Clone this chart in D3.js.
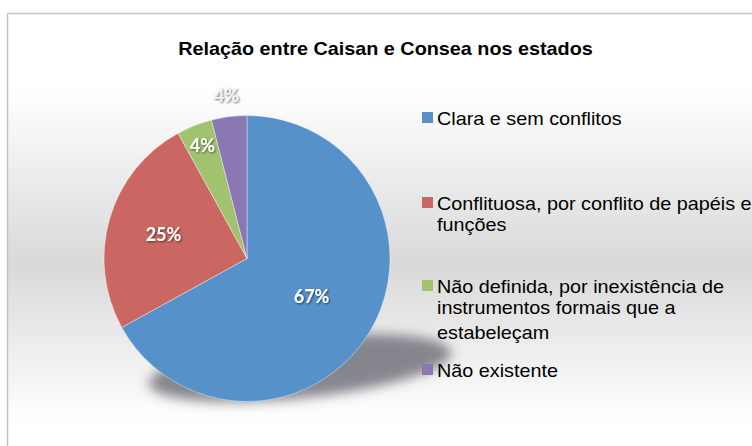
<!DOCTYPE html>
<html>
<head>
<meta charset="utf-8">
<script src="https://cdn.jsdelivr.net/npm/d3@7"></script>
<style>
  body { margin: 0; background: #fff; }
  svg { display: block; }
</style>
</head>
<body>
<script>
const width = 752;
const height = 446;

// data
const categories = [
    "Clara e sem conflitos",
    "Conflituosa, por conflito de papéis e funções",
    "Não definida, por inexistência de instrumentos formais que a estabeleçam",
    "Não existente"
];
const values = [67, 25, 4, 4];
const labels = ["67%", "25%", "4%", "4%"];
// legend text broken into lines like the original
const legendLines = [
    ["Clara e sem conflitos"],
    ["Conflituosa, por conflito de papéis e", "funções"],
    ["Não definida, por inexistência de", "instrumentos formais que a", "estabeleçam"],
    ["Não existente"]
];
const colors = ["#5791c9", "#cb6762", "#a1c370", "#8b78b3"];

// layout
const cx = 247, cy = 258.5, radius = 143;
const labelRadius = [75, 87, 121, 164];
const legendY = [125, 210, 293, 377];
const stretch = 1.1; // text in the original is a bit wide

const svg = d3.select("body")
    .append("svg")
    .attr("width", width)
    .attr("height", height);

const defs = svg.append("defs");

// background band
const grad = defs.append("linearGradient")
    .attr("id", "bg")
    .attr("x1", 0).attr("y1", 0)
    .attr("x2", 0).attr("y2", 1);
grad.append("stop").attr("offset", "0%").attr("stop-color", "#ffffff");
grad.append("stop").attr("offset", "15%").attr("stop-color", "#ffffff");
grad.append("stop").attr("offset", "50%").attr("stop-color", "#d9d9d9");
grad.append("stop").attr("offset", "82%").attr("stop-color", "#ffffff");
grad.append("stop").attr("offset", "100%").attr("stop-color", "#ffffff");

defs.append("filter")
    .attr("id", "blur")
    .attr("x", "-30%").attr("y", "-60%")
    .attr("width", "160%").attr("height", "220%")
    .append("feGaussianBlur")
    .attr("stdDeviation", 6);

const glow = defs.append("filter")
    .attr("id", "glow")
    .attr("x", "-30%").attr("y", "-30%")
    .attr("width", "160%").attr("height", "160%");
glow.append("feDropShadow")
    .attr("dx", 1).attr("dy", 1)
    .attr("stdDeviation", 1.2)
    .attr("flood-color", "#000")
    .attr("flood-opacity", 0.6);

svg.append("rect")
    .attr("x", 7.5)
    .attr("y", 13.5)
    .attr("width", 800)
    .attr("height", 500)
    .attr("fill", "url(#bg)")
    .attr("stroke", "#c4c4c4")
    .attr("stroke-width", 1.5);

// title
svg.append("text")
    .attr("transform", "translate(385.5,55) scale(" + stretch + ",1)")
    .attr("text-anchor", "middle")
    .style("font-family", "'Liberation Sans', Arial, sans-serif")
    .style("font-weight", "bold")
    .style("font-size", "18px")
    .style("fill", "#000")
    .text("Relação entre Caisan e Consea nos estados");

// shadow under the pie
svg.append("ellipse")
    .attr("transform", "translate(300,368) rotate(-6)")
    .attr("rx", 152)
    .attr("ry", 30)
    .attr("fill", "#73737d")
    .attr("opacity", 0.85)
    .attr("filter", "url(#blur)");

const pie = d3.pie().sort(null).value(d => d);
const arcs = pie(values);
const arc = d3.arc().innerRadius(0).outerRadius(radius);

const g = svg.append("g")
    .attr("transform", "translate(" + cx + "," + cy + ")");

g.selectAll("path")
    .data(arcs)
    .enter()
    .append("path")
    .attr("d", arc)
    .attr("fill", (d, i) => colors[i])
    .attr("stroke", "#ffffff")
    .attr("stroke-width", 0.4);

// percentage labels
g.selectAll("text.lbl")
    .data(arcs)
    .enter()
    .append("text")
    .attr("class", "lbl")
    .attr("transform", (d, i) => {
        const a = (d.startAngle + d.endAngle) / 2;
        const r = labelRadius[i];
        return "translate(" + (r * Math.sin(a)) + "," + (-r * Math.cos(a)) + ")";
    })
    .attr("text-anchor", "middle")
    .attr("dy", "0.36em")
    .attr("filter", "url(#glow)")
    .style("font-family", "Lato, 'Open Sans', sans-serif")
    .style("font-weight", "bold")
    .style("font-size", "18px")
    .style("fill", (d, i) => i === 3 ? "#f2f2f2" : "#ffffff")
    .text((d, i) => labels[i]);

// legend
const legend = svg.append("g");
categories.forEach(function (c, i) {
    const row = legend.append("g");
    row.append("rect")
        .attr("x", 422)
        .attr("y", legendY[i] - 13)
        .attr("width", 11)
        .attr("height", 11)
        .attr("fill", colors[i]);
    const t = row.append("text")
        .attr("transform", "translate(437," + legendY[i] + ") scale(" + stretch + ",1)")
        .style("font-family", "'Liberation Sans', Arial, sans-serif")
        .style("font-size", "18px")
        .style("fill", "#000");
    legendLines[i].forEach(function (line, j) {
        t.append("tspan")
            .attr("x", 0)
            .attr("dy", j === 0 ? 0 : (j === 2 ? 25 : 21))
            .text(line);
    });
});
</script>
</body>
</html>
